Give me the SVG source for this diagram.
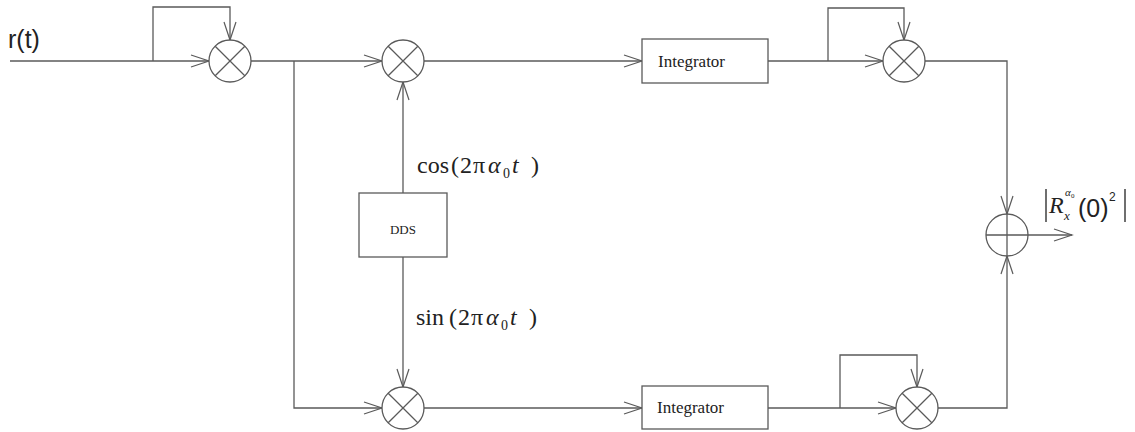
<svg xmlns="http://www.w3.org/2000/svg" width="1135" height="432" viewBox="0 0 1135 432">
  <style>
    .ln { fill: none; stroke: #5a5a5a; stroke-width: 1.3; }
    .arr { marker-end: url(#open); }
    .blk { fill: #ffffff; stroke: #5a5a5a; stroke-width: 1.3; }
    .lbl { font-family: "Liberation Serif", "Times New Roman", serif; fill: #222; }
    .it { font-style: italic; }
  </style>
  <defs>
    <marker id="open" markerUnits="userSpaceOnUse" markerWidth="22" markerHeight="16" viewBox="0 0 22 16" refX="20" refY="8" orient="auto">
      <path d="M2,2 L20,8 L2,14" fill="none" stroke="#5a5a5a" stroke-width="1.2"/>
    </marker>
    <g id="mul">
      <circle r="21" class="blk"/>
      <path d="M-14.8,-14.8 L14.8,14.8 M-14.8,14.8 L14.8,-14.8" class="ln"/>
    </g>
  </defs>
  <rect width="1135" height="432" fill="#ffffff"/>

  <!-- input label -->
  <text x="8" y="48" font-family="Liberation Sans, Arial, sans-serif" font-size="25" fill="#222">r(t)</text>

  <!-- connectors -->
  <g id="connectors">
    <!-- input into squarer 1 -->
    <path class="ln arr" d="M10,61 L209,61"/>
    <path class="ln arr" d="M153,61 L153,7 L230,7 L230,40"/>
    <!-- split to I and Q mixers -->
    <path class="ln arr" d="M251,61 L382,61"/>
    <path class="ln arr" d="M294,61 L294,408 L382,408"/>
    <!-- DDS outputs -->
    <path class="ln arr" d="M403,193 L403,82"/>
    <path class="ln arr" d="M403,257 L403,387"/>
    <!-- mixers to integrators -->
    <path class="ln arr" d="M424,61 L642,61"/>
    <path class="ln arr" d="M424,408 L642,408"/>
    <!-- integrators to squarers -->
    <path class="ln arr" d="M768,61 L883,61"/>
    <path class="ln arr" d="M828,61 L828,8 L904,8 L904,40"/>
    <path class="ln arr" d="M768,408 L896,408"/>
    <path class="ln arr" d="M840,408 L840,355 L917,355 L917,387"/>
    <!-- squarers to summer -->
    <path class="ln arr" d="M925,61 L1007,61 L1007,214"/>
    <path class="ln arr" d="M938,408 L1007,408 L1007,256"/>
    <!-- output -->
    <path class="ln arr" d="M1028,235 L1072,235"/>
  </g>

  <!-- squarer on input -->
  <g id="mult-in"><use href="#mul" x="230" y="61"/></g>
  <!-- I mixer -->
  <g id="mult-i"><use href="#mul" x="403" y="61"/></g>
  <!-- Q mixer -->
  <g id="mult-q"><use href="#mul" x="403" y="408"/></g>
  <!-- squarers after integrators -->
  <g id="mult-i2"><use href="#mul" x="904" y="61"/></g>
  <g id="mult-q2"><use href="#mul" x="917" y="408"/></g>

  <!-- summer -->
  <g id="sum">
    <circle cx="1007" cy="235" r="21" class="blk"/>
    <path class="ln" d="M986,235 L1028,235 M1007,214 L1007,256"/>
  </g>

  <!-- integrators -->
  <g id="integrator-i">
    <rect x="642" y="39" width="126" height="44" class="blk"/>
    <text x="658" y="67" class="lbl" font-size="17">Integrator</text>
  </g>
  <g id="integrator-q">
    <rect x="642" y="386" width="126" height="43" class="blk"/>
    <text x="657" y="413" class="lbl" font-size="17">Integrator</text>
  </g>

  <!-- oscillator -->
  <g id="dds">
    <rect x="359" y="193" width="88" height="64" class="blk"/>
    <text x="403" y="234" class="lbl" font-size="13" text-anchor="middle">DDS</text>
  </g>

  <!-- carrier labels -->
  <g id="cos-label" class="lbl" font-size="24">
    <text y="173"><tspan x="417">cos</tspan><tspan x="451">(</tspan><tspan x="460">2</tspan><tspan x="473">π</tspan><tspan x="488" class="it">α</tspan><tspan x="503" y="178" font-size="14">0</tspan><tspan x="512" y="173" class="it">t</tspan><tspan x="531">)</tspan></text>
  </g>
  <g id="sin-label" class="lbl" font-size="24">
    <text y="325"><tspan x="416">sin</tspan><tspan x="449">(</tspan><tspan x="458">2</tspan><tspan x="471">π</tspan><tspan x="486" class="it">α</tspan><tspan x="501" y="330" font-size="14">0</tspan><tspan x="510" y="325" class="it">t</tspan><tspan x="529">)</tspan></text>
  </g>

  <!-- output label -->
  <g id="out-label">
    <path d="M1046,189 L1046,222 M1125,189 L1125,222" stroke="#333" stroke-width="1.4" fill="none"/>
    <text x="1049" y="213" class="lbl it" font-size="24">R</text>
    <text class="lbl" font-size="11" y="196"><tspan x="1065" class="it">α</tspan><tspan x="1071" y="198" font-size="7">0</tspan></text>
    <text x="1064" y="220" class="lbl it" font-size="13">x</text>
    <text x="1078" y="217" font-family="Liberation Sans, Arial, sans-serif" font-size="25" fill="#222">(0)</text>
    <text x="1109" y="201" font-family="Liberation Sans, Arial, sans-serif" font-size="12" fill="#222">2</text>
  </g>
</svg>
